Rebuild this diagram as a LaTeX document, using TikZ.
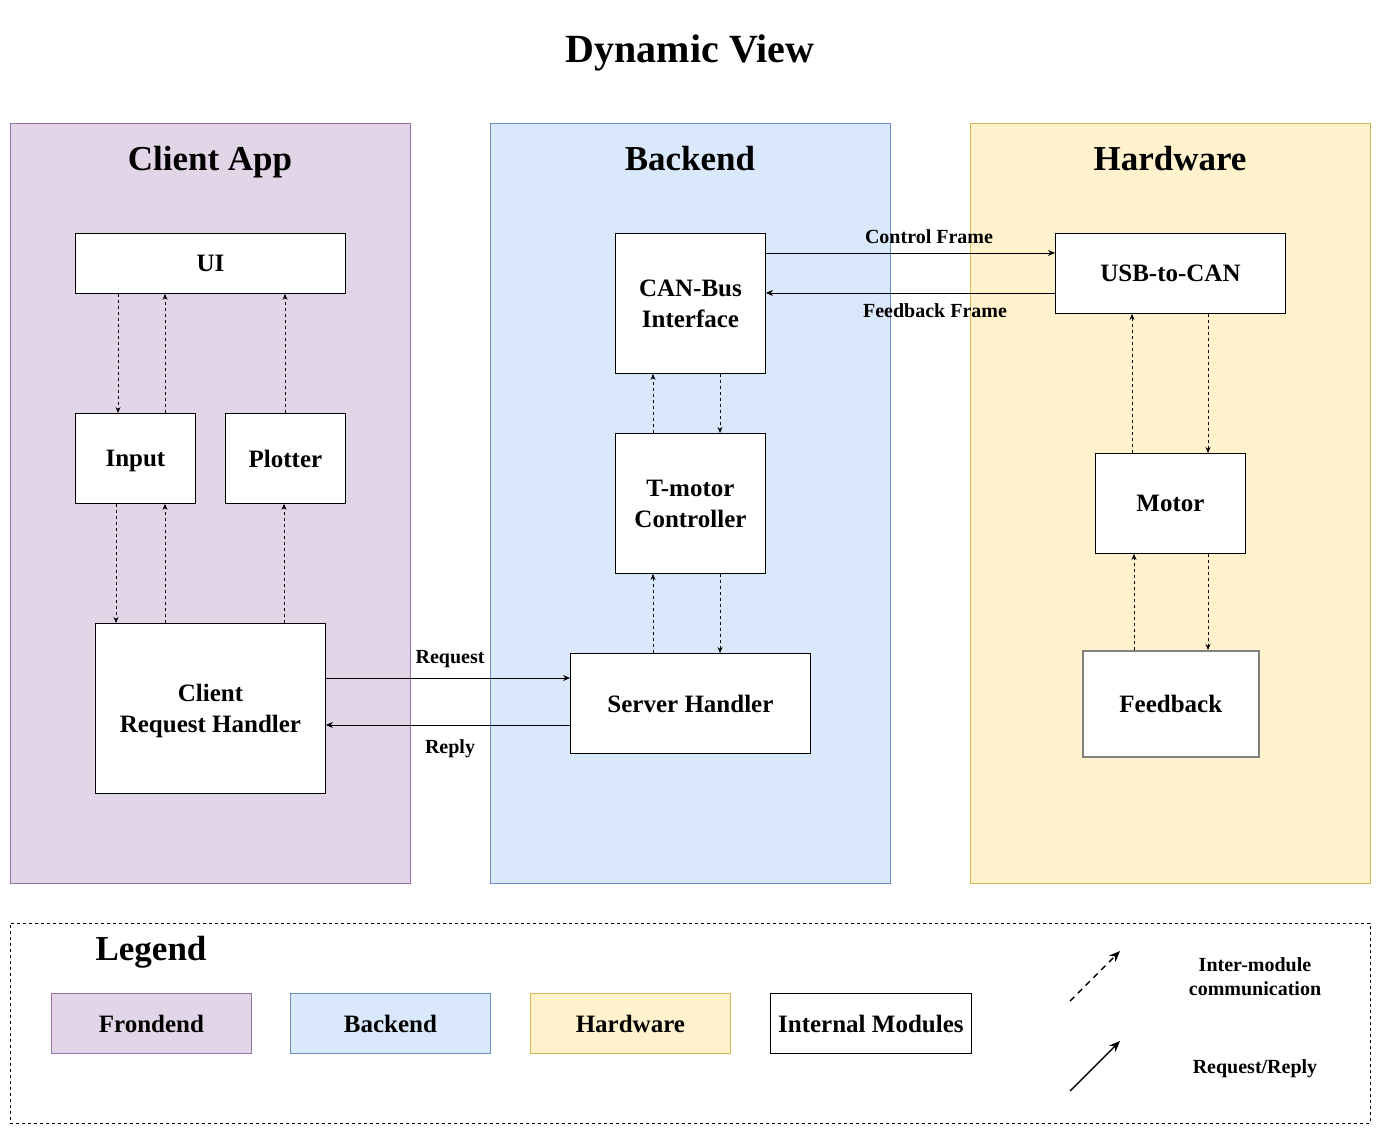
\documentclass[tikz,border=0pt]{standalone}
\usepackage{fontspec}
\setmainfont{Liberation Serif}
\usetikzlibrary{arrows.meta,calc}
\definecolor{purplefill}{HTML}{E1D5E7}
\definecolor{purpleline}{HTML}{9673A6}
\definecolor{bluefill}{HTML}{DAE8FC}
\definecolor{blueline}{HTML}{6C8EBF}
\definecolor{yellowfill}{HTML}{FFF2CC}
\definecolor{yellowline}{HTML}{D6B656}
\definecolor{greyline}{HTML}{808080}
\begin{document}
\begin{tikzpicture}[x=1pt,y=-1pt,
  zone/.style={draw, line width=0.8pt, inner sep=0pt, anchor=north west},
  zonetitle/.style={font=\fontsize{35}{40}\selectfont\bfseries, inner sep=0pt, text depth=0pt},
  module/.style={draw=black, fill=white, line width=0.9pt, inner sep=0pt, align=center, text depth=0pt,
    font=\fontsize{25}{31}\selectfont\bfseries, anchor=north west},
  lbl/.style={font=\fontsize{20}{24}\selectfont\bfseries, inner sep=0pt, align=center, text depth=0pt},
  comm/.style={dash pattern=on 3pt off 3pt, line width=0.8pt, -{Stealth[length=6pt,width=5pt]}},
  reqrep/.style={line width=0.9pt, -{Stealth[length=7pt,width=6pt]}},
  legbox/.style={draw, line width=0.8pt, inner sep=0pt, minimum width=200pt, minimum height=60pt, text depth=0pt,
    font=\fontsize{25}{31}\selectfont\bfseries, anchor=north west}
]
\useasboundingbox (0,0) rectangle (1383,1137);
\fill[white] (0,0) rectangle (1383,1137);

% title
\node[font=\fontsize{40}{48}\selectfont\bfseries, inner sep=0pt, text depth=0pt] (title) at (690,49) {Dynamic View};

% zones
\node[zone, fill=purplefill, draw=purpleline, minimum width=400pt, minimum height=760pt] (clientzone) at (10,123) {};
\node[zone, fill=bluefill, draw=blueline, minimum width=400pt, minimum height=760pt] (backzone) at (490,123) {};
\node[zone, fill=yellowfill, draw=yellowline, minimum width=400pt, minimum height=760pt] (hwzone) at (970,123) {};
\node[zonetitle] (clienttitle) at (210,158) {Client App};
\node[zonetitle] (backtitle) at (690,158) {Backend};
\node[zonetitle] (hwtitle) at (1170,158) {Hardware};

% client modules
\node[module, minimum width=270pt, minimum height=60pt] (ui) at (75,233) {UI};
\node[module, minimum width=120pt, minimum height=90pt] (input) at (75,413) {Input};
\node[module, minimum width=120pt, minimum height=90pt] (plotter) at (225,413) {Plotter};
\node[module, minimum width=230pt, minimum height=170pt] (crh) at (95,623) {Client\\Request Handler};

% backend modules
\node[module, minimum width=150pt, minimum height=140pt] (can) at (615,233) {CAN-Bus\\Interface};
\node[module, minimum width=150pt, minimum height=140pt] (tmotor) at (615,433) {T-motor\\Controller};
\node[module, minimum width=240pt, minimum height=100pt] (server) at (570,653) {Server Handler};

% hardware modules
\node[module, minimum width=230pt, minimum height=80pt] (usb) at (1055,233) {USB-to-CAN};
\node[module, minimum width=150pt, minimum height=100pt] (motor) at (1095,453) {Motor};
\node[module, draw=greyline, line width=1.6pt, minimum width=176pt, minimum height=106pt] (feedback) at (1082,650) {Feedback};

% client connectors
\draw[comm] (ui.south -| 118,0) -- (input.north -| 118,0);
\draw[comm] (input.north -| 165,0) -- (ui.south -| 165,0);
\draw[comm] (plotter.north -| 285,0) -- (ui.south -| 285,0);
\draw[comm] (input.south -| 116,0) -- (crh.north -| 116,0);
\draw[comm] (crh.north -| 165,0) -- (input.south -| 165,0);
\draw[comm] (crh.north -| 284,0) -- (plotter.south -| 284,0);

% backend connectors
\draw[comm] (tmotor.north -| 653,0) -- (can.south -| 653,0);
\draw[comm] (can.south -| 720,0) -- (tmotor.north -| 720,0);
\draw[comm] (server.north -| 653,0) -- (tmotor.south -| 653,0);
\draw[comm] (tmotor.south -| 720,0) -- (server.north -| 720,0);

% hardware connectors
\draw[comm] (motor.north -| 1132,0) -- (usb.south -| 1132,0);
\draw[comm] (usb.south -| 1208,0) -- (motor.north -| 1208,0);
\draw[comm] (feedback.north -| 1134,0) -- (motor.south -| 1134,0);
\draw[comm] (motor.south -| 1208,0) -- (feedback.north -| 1208,0);

% request / reply
\draw[reqrep] (can.east |- 0,253) -- (usb.west |- 0,253);
\draw[reqrep] (usb.west |- 0,293) -- (can.east |- 0,293);
\draw[reqrep] (crh.east |- 0,678) -- (server.west |- 0,678);
\draw[reqrep] (server.west |- 0,725) -- (crh.east |- 0,725);
\node[lbl] (lcontrol) at (929,237) {Control Frame};
\node[lbl] (lfeedback) at (935,311) {Feedback Frame};
\node[lbl] (lrequest) at (450,657) {Request};
\node[lbl] (lreply) at (450,747) {Reply};

% legend
\node[draw, dash pattern=on 3pt off 3pt, line width=0.7pt, minimum width=1360pt, minimum height=200pt, inner sep=0pt, anchor=north west] (legend) at (10,923) {};
\node[zonetitle] (legendtitle) at (151,948) {Legend};
\node[legbox, fill=purplefill, draw=purpleline] (lgfront) at (51,993) {Frondend};
\node[legbox, fill=bluefill, draw=blueline] (lgback) at (290,993) {Backend};
\node[legbox, fill=yellowfill, draw=yellowline] (lghw) at (530,993) {Hardware};
\node[legbox, fill=white, draw=black, minimum width=201pt] (lgint) at (770,993) {Internal Modules};
\coordinate (da) at (1070,1001);
\coordinate (db) at (1120,951);
\coordinate (sa) at (1070,1091);
\coordinate (sb) at (1120,1041);
\draw[dash pattern=on 6pt off 5pt, line width=1.4pt, -{Stealth[length=11pt,width=9pt]}] (da) -- (db);
\draw[line width=1.4pt, -{Stealth[length=11pt,width=9pt]}] (sa) -- (sb);
\node[lbl] (lginter) at (1255,977) {Inter-module\\communication};
\node[lbl] (lgreq) at (1255,1067) {Request/Reply};
\end{tikzpicture}
\end{document}
